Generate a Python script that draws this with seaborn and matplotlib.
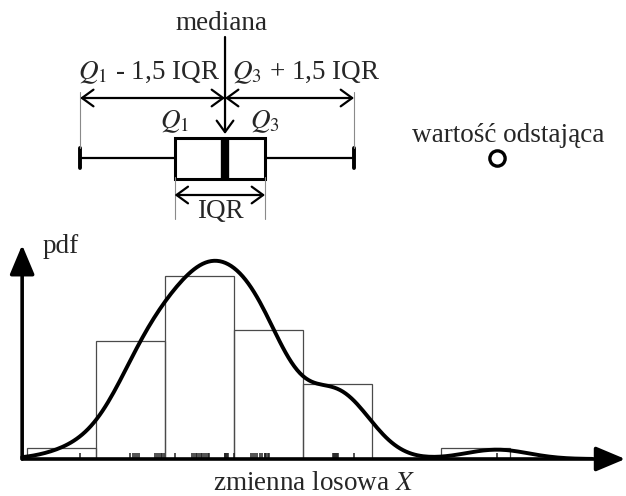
import numpy as np
import matplotlib
matplotlib.use("Agg")
import matplotlib.pyplot as plt
import seaborn as sns

# Observed sample of the random variable X
x_values = [
    0.77,
    1.50, 1.53, 1.56, 1.59, 1.62, 1.85, 1.88, 1.91, 1.94, 1.96, 1.99,
    2.14, 2.39, 2.42, 2.45, 2.47, 2.50, 2.52, 2.54, 2.57, 2.59, 2.62, 2.64,
    2.87, 2.87, 2.88, 2.90, 2.92,
    3.00, 3.24, 3.28, 3.31, 3.34, 3.37, 3.40, 3.45, 3.45, 3.47, 3.49, 3.51,
    4.44, 4.45, 4.47, 4.48, 4.49, 4.51, 4.74,
    6.81,
]
bin_edges = [0, 1, 2, 3, 4, 5, 6, 7]

label_median = "mediana"
label_low = r"$Q_{\mathit{1}}$ - 1,5 IQR"
label_high = r"$Q_{\mathit{3}}$ + 1,5 IQR"
label_q1 = r"$Q_{\mathit{1}}$"
label_q3 = r"$Q_{\mathit{3}}$"
label_iqr = "IQR"
label_outlier = "wartość odstająca"
label_pdf = "pdf"
label_x = r"zmienna losowa $X$"

sns.set_style("white")
plt.rcParams["font.family"] = ["Liberation Serif", "DejaVu Serif"]
plt.rcParams["mathtext.fontset"] = "stix"

FS = 19.5
XLIM = (-0.391, 8.681)
Y_SCALE = 10.75          # pixels per count in the histogram panel
AXIS_X0 = -0.07          # where the vertical pdf axis sits

fig = plt.figure(figsize=(6.26, 4.96), dpi=100)
ax_h = fig.add_axes([0, 37 / 496, 1, 229 / 496])
ax_b = fig.add_axes([0, 266 / 496, 1, 230 / 496], sharex=ax_h)

# ---- histogram + KDE + rug ----
sns.histplot(
    x=x_values, bins=bin_edges, stat="count", fill=False, element="bars",
    color="#4a4a4a", linewidth=0.9, kde=True,
    kde_kws=dict(bw_adjust=0.913, cut=3, clip=(AXIS_X0, None)),
    line_kws=dict(linewidth=2.8), ax=ax_h,
)
for ln in ax_h.lines:
    ln.set_color("black")
    ln.set_zorder(5)
sns.rugplot(x=x_values, height=0.025, color="#222222", linewidth=1.1, ax=ax_h)

ax_h.set_xlim(*XLIM)
ax_h.set_ylim(0, 229 / Y_SCALE)
ax_h.axis("off")

axis_arrow = dict(arrowstyle="-|>,head_length=1.0,head_width=0.42",
                  mutation_scale=18, lw=2.6, color="black",
                  shrinkA=0, shrinkB=0)
ax_h.annotate("", xy=(8.67, 0), xytext=(AXIS_X0, 0),
              arrowprops=axis_arrow, annotation_clip=False, zorder=6)
ax_h.annotate("", xy=(AXIS_X0, 214 / Y_SCALE), xytext=(AXIS_X0, 0),
              arrowprops=axis_arrow, annotation_clip=False, zorder=6)
ax_h.text(0.23, 206 / Y_SCALE, label_pdf, fontsize=FS, ha="left", va="baseline")
ax_h.text(4.16, -31 / Y_SCALE, label_x, fontsize=FS, ha="center",
          va="baseline", clip_on=False)

# ---- box plot ----
sns.boxplot(
    x=x_values, orient="y", width=0.8, color="white", linecolor="black",
    linewidth=2.2, ax=ax_b,
    whiskerprops=dict(linewidth=1.6),
    capprops=dict(linewidth=2.8),
    medianprops=dict(linewidth=6, solid_capstyle="butt"),
    flierprops=dict(marker="o", markersize=11, markeredgewidth=2.4,
                    markerfacecolor="white", markeredgecolor="black"),
)
ax_b.set_xlim(*XLIM)
BOX_PX, BOX_S = 158, 51.25
ax_b.set_ylim((230 - BOX_PX) / BOX_S, -BOX_PX / BOX_S)
ax_b.axis("off")


def by(px):
    return (px - BOX_PX) / BOX_S


arr = np.asarray(x_values)
q1, med, q3 = np.percentile(arr, [25, 50, 75])
iqr = q3 - q1
lo_whisk = arr[arr >= q1 - 1.5 * iqr].min()
hi_whisk = arr[arr <= q3 + 1.5 * iqr].max()
outliers = arr[(arr < q1 - 1.5 * iqr) | (arr > q3 + 1.5 * iqr)]

thin = dict(color="#8a8a8a", lw=0.8, clip_on=False)
for xv in (lo_whisk, hi_whisk):
    ax_b.plot([xv, xv], [by(92), by(148)], **thin)
for xv in (q1, q3):
    ax_b.plot([xv, xv], [by(177), by(219)], **thin)

dbl = dict(arrowstyle="<->,head_length=0.55,head_width=0.4",
           mutation_scale=15, lw=1.6, color="black", shrinkA=0, shrinkB=0)
one = dict(arrowstyle="->,head_length=0.55,head_width=0.4",
           mutation_scale=15, lw=1.6, color="black", shrinkA=0, shrinkB=0)
ax_b.annotate("", xy=(med, by(98)), xytext=(lo_whisk, by(98)),
              arrowprops=dbl, annotation_clip=False)
ax_b.annotate("", xy=(hi_whisk, by(98)), xytext=(med, by(98)),
              arrowprops=dbl, annotation_clip=False)
ax_b.annotate("", xy=(q3, by(195)), xytext=(q1, by(195)),
              arrowprops=dbl, annotation_clip=False)
ax_b.annotate("", xy=(med, by(134)), xytext=(med, by(37)),
              arrowprops=one, annotation_clip=False)

ax_b.text(med - 0.05, by(30), label_median, fontsize=FS, ha="center", va="baseline")
ax_b.text(med - 5 / 69, by(79), label_low, fontsize=FS, ha="right", va="baseline")
ax_b.text(med + 7 / 69, by(79), label_high, fontsize=FS, ha="left", va="baseline")
ax_b.text(q1, by(128), label_q1, fontsize=FS, ha="center", va="baseline")
ax_b.text(q3, by(128), label_q3, fontsize=FS, ha="center", va="baseline")
ax_b.text((q1 + q3) / 2, by(218), label_iqr, fontsize=FS, ha="center", va="baseline")
ax_b.text(outliers[0] + 11 / 69, by(142), label_outlier, fontsize=FS,
          ha="center", va="baseline")

fig.savefig("out.png", dpi=100, facecolor="white")
